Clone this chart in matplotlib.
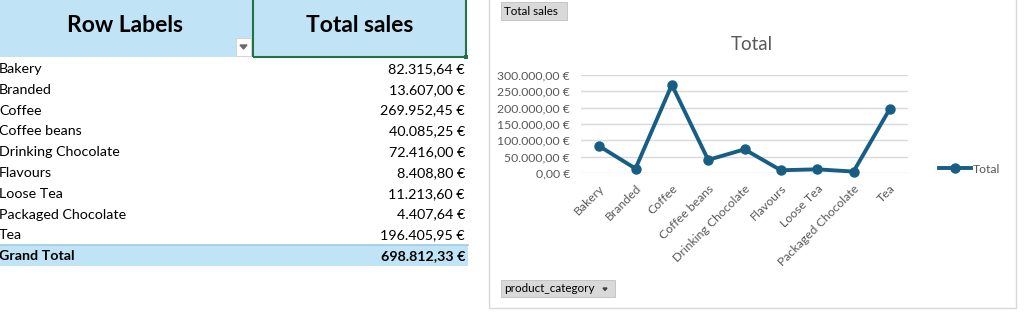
import matplotlib.pyplot as plt
from matplotlib.patches import Rectangle, Polygon
from matplotlib.ticker import FuncFormatter

plt.rcParams['font.family'] = ['Lato', 'DejaVu Sans']

# data
categories = ['Bakery', 'Branded', 'Coffee', 'Coffee beans', 'Drinking Chocolate',
              'Flavours', 'Loose Tea', 'Packaged Chocolate', 'Tea']
sales = [82315.64, 13607.00, 269952.45, 40085.25, 72416.00,
         8408.80, 11213.60, 4407.64, 196405.95]
y_ticks = [0, 50000, 100000, 150000, 200000, 250000, 300000]

W, H = 1024, 323
fig = plt.figure(figsize=(W / 100, H / 100), dpi=100)
fig.patch.set_facecolor('white')


def fx(px):
    return px / W


def fy(py):
    return 1 - py / H


def eur(v):
    s = f"{v:,.2f}"
    return s.replace(',', 'X').replace('.', ',').replace('X', '.') + ' \u20ac'


def rect(x0, y0, x1, y1, **kw):
    fig.add_artist(Rectangle((fx(x0), fy(y1)), fx(x1 - x0), fy(y0) - fy(y1),
                             transform=fig.transFigure, **kw))


# ---- pivot table ----
hdr_blue = '#C0E4F5'
rect(0, 0, 467, 57, facecolor=hdr_blue, edgecolor='none')
rect(253, -2, 466, 57, facecolor='none', edgecolor='#217346', linewidth=1.5)
rect(464, 55, 468, 59, facecolor='#217346', edgecolor='none')
# dropdown button
rect(236, 38, 251, 56, facecolor='white', edgecolor='#d0d0d0', linewidth=0.6)
fig.add_artist(Polygon([(fx(240), fy(45)), (fx(247), fy(45)), (fx(243.5), fy(49))],
                       closed=True, transform=fig.transFigure, color='#6a6a6a'))

fig.text(fx(125), fy(26), 'Row Labels', fontsize=16.5, fontweight='bold',
         ha='center', va='center')
fig.text(fx(360), fy(26), 'Total sales', fontsize=16.5, fontweight='bold',
         ha='center', va='center')

row_h = 20.8
for i, (c, v) in enumerate(zip(categories, sales)):
    yc = 69 + i * row_h
    fig.text(fx(-1), fy(yc), c, fontsize=10.3, ha='left', va='center')
    fig.text(fx(465), fy(yc), eur(v), fontsize=10.3, ha='right', va='center')

gy = 69 + len(categories) * row_h
rect(0, gy - 11, 468, gy + 10, facecolor=hdr_blue, edgecolor='none')
fig.add_artist(plt.Line2D([0, fx(468)], [fy(gy - 11), fy(gy - 11)],
                          transform=fig.transFigure, color='#9CCDE6', linewidth=1.2))
fig.text(fx(-1), fy(gy), 'Grand Total', fontsize=10.3, fontweight='bold',
         ha='left', va='center')
fig.text(fx(465), fy(gy), eur(sum(sales)), fontsize=10.3, fontweight='bold',
         ha='right', va='center')

# ---- pivot chart ----
rect(489, -2, 1016, 308, facecolor='white', edgecolor='#d9d9d9', linewidth=1)

# field buttons
rect(501, 2, 567, 20, facecolor='#d9d9d9', edgecolor='#bfbfbf', linewidth=0.6)
fig.text(fx(504), fy(11.5), 'Total sales', fontsize=8.4, ha='left', va='center')
rect(501, 280, 615, 297, facecolor='#d9d9d9', edgecolor='#bfbfbf', linewidth=0.6)
fig.text(fx(504), fy(289), 'product_category', fontsize=8.4, ha='left', va='center')
fig.add_artist(Polygon([(fx(603), fy(288)), (fx(607), fy(288)), (fx(605), fy(290.5))],
                       closed=True, transform=fig.transFigure, color='#404040'))

fig.text(fx(752), fy(45), 'Total', fontsize=13.5, color='#595959', ha='center', va='center')

ax = fig.add_axes([fx(581), fy(173), fx(908 - 581), fy(75) - fy(173)])
ax.set_zorder(5)
ax.set_facecolor('none')
line_col = '#185E84'
x = list(range(len(categories)))
ax.plot(x, sales, color=line_col, linewidth=2.8, marker='o', markersize=6.5,
        label='Total', solid_joinstyle='round', clip_on=False)
ax.set_xlim(-0.5, len(categories) - 0.5)
ax.set_ylim(0, 300000)
ax.set_yticks(y_ticks)
ax.yaxis.set_major_formatter(FuncFormatter(lambda v, p: eur(v)))
ax.set_xticks(x)
ax.set_xticklabels(categories, rotation=45, ha='right', rotation_mode='anchor')
ax.tick_params(axis='both', length=0, labelsize=8.8, labelcolor='#595959')
ax.tick_params(axis='x', pad=7)
ax.tick_params(axis='y', pad=8)
ax.grid(axis='y', color='#d9d9d9', linewidth=1)
ax.set_axisbelow(True)
for s in ax.spines.values():
    s.set_visible(False)

leg = fig.legend(loc='center left', bbox_to_anchor=(fx(939), fy(169)), frameon=False,
                 fontsize=8.8, labelcolor='#595959', handlelength=2.6, handletextpad=0.2,
                 borderaxespad=0, borderpad=0)
leg.set_zorder(6)

fig.savefig('out.png', dpi=100)
